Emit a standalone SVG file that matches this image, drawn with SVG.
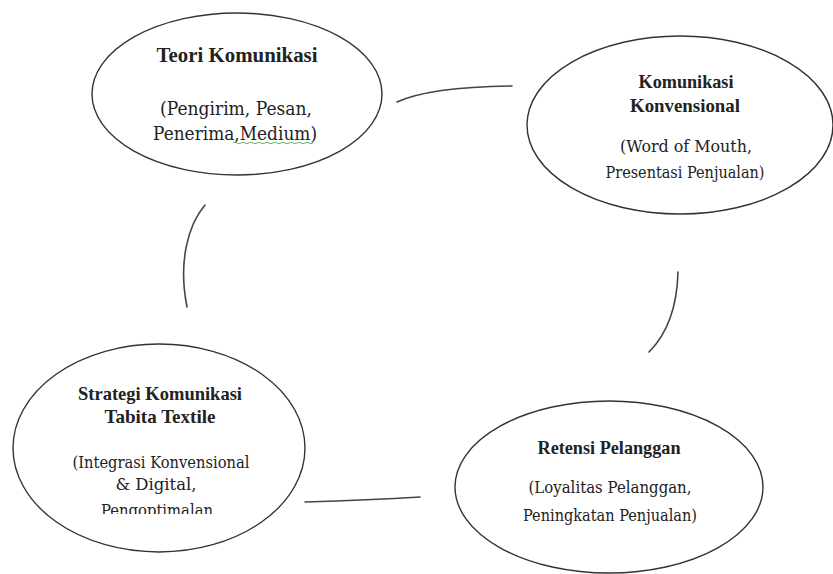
<svg xmlns="http://www.w3.org/2000/svg" width="833" height="574" viewBox="0 0 833 574">
<style>
.node ellipse{fill:#fff;stroke:#333;stroke-width:1.4}
text{font-family:"Liberation Serif","DejaVu Serif",serif;fill:#222;text-anchor:middle}
.t{font-weight:bold;font-size:19px}
.s{font-family:"DejaVu Serif","Liberation Serif",serif;font-weight:normal;font-size:17px}
.big .t{font-size:20.5px}
.big .s{font-size:18px}
#connectors path{fill:none;stroke:#444;stroke-width:1.6;stroke-linecap:round}
</style>
<defs>
<clipPath id="clipLast"><rect x="0" y="495" width="320" height="19"/></clipPath>
</defs>
<rect width="833" height="574" fill="#fff"/>
<g id="connectors">
<path d="M397,102 Q430,87 512,86"/>
<path d="M205,205 C188,225 178,262 187,307"/>
<path d="M678,272 C677,310 666,335 649,352"/>
<path d="M305,502 Q370,500 420,497"/>
</g>
<g id="teori" class="node big">
<ellipse cx="237" cy="94" rx="145" ry="81"/>
<text class="t" x="237" y="62" textLength="161" lengthAdjust="spacingAndGlyphs">Teori Komunikasi</text>
<text class="s" x="236" y="115" textLength="152" lengthAdjust="spacingAndGlyphs">(Pengirim, Pesan,</text>
<text class="s" x="235" y="140" textLength="164" lengthAdjust="spacingAndGlyphs">Penerima,Medium)</text>
<path d="M233,143 q2,-1.5 4,0 t4,0 t4,0 t4,0 t4,0 t4,0 t4,0 t4,0 t4,0 t4,0 t4,0 t4,0 t4,0 t4,0 t4,0 t4,0 t4,0 t4,0 t4,0 t4,0" fill="none" stroke="#4caf50" stroke-width="0.9"/>
</g>
<g id="konvensional" class="node">
<ellipse cx="680" cy="125" rx="153" ry="89"/>
<text class="t" x="686" y="88" textLength="95" lengthAdjust="spacingAndGlyphs">Komunikasi</text>
<text class="t" x="685" y="112" textLength="110" lengthAdjust="spacingAndGlyphs">Konvensional</text>
<text class="s" x="686" y="152" textLength="132" lengthAdjust="spacingAndGlyphs">(Word of Mouth,</text>
<text class="s" x="685" y="178" textLength="159" lengthAdjust="spacingAndGlyphs">Presentasi Penjualan)</text>
</g>
<g id="strategi" class="node">
<ellipse cx="159" cy="448" rx="146" ry="104"/>
<text class="t" x="160" y="400" textLength="164" lengthAdjust="spacingAndGlyphs">Strategi Komunikasi</text>
<text class="t" x="160" y="423" textLength="111" lengthAdjust="spacingAndGlyphs">Tabita Textile</text>
<text class="s" x="161" y="468" textLength="177" lengthAdjust="spacingAndGlyphs">(Integrasi Konvensional</text>
<text class="s" x="156" y="490" textLength="81" lengthAdjust="spacingAndGlyphs">&amp; Digital,</text>
<text class="s" x="157" y="516" textLength="112" lengthAdjust="spacingAndGlyphs" clip-path="url(#clipLast)">Pengoptimalan</text>
</g>
<g id="retensi" class="node">
<ellipse cx="609" cy="487" rx="154" ry="86"/>
<text class="t" x="609" y="454" textLength="143" lengthAdjust="spacingAndGlyphs">Retensi Pelanggan</text>
<text class="s" x="610" y="493" textLength="163" lengthAdjust="spacingAndGlyphs">(Loyalitas Pelanggan,</text>
<text class="s" x="610" y="521" textLength="174" lengthAdjust="spacingAndGlyphs">Peningkatan Penjualan)</text>
</g>
</svg>
